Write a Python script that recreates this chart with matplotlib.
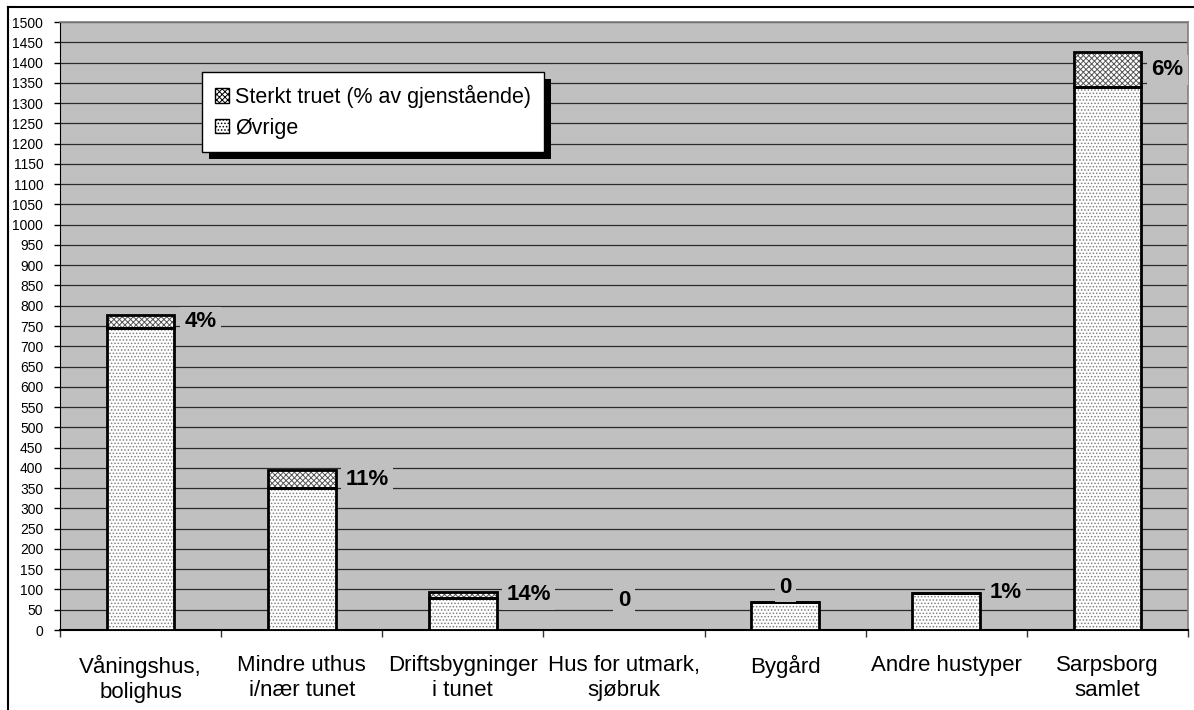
import numpy as np
import matplotlib
matplotlib.use("Agg")
import matplotlib.pyplot as plt
from matplotlib.lines import Line2D
from matplotlib.patches import Rectangle

# Data
categories = ['Våningshus,\nbolighus', 'Mindre uthus\ni/nær tunet', 'Driftsbygninger\ni tunet',
              'Hus for utmark,\nsjøbruk', 'Bygård', 'Andre hustyper', 'Sarpsborg\nsamlet']
ovrige = [745, 350, 80, 0, 70, 91, 1340]
sterkt = [32, 45, 13, 0, 0, 1, 85]
pct_labels = ['4%', '11%', '14%', '0', '0', '1%', '6%']
yticks = list(range(0, 1501, 50))

plt.rcParams['font.family'] = ['Liberation Sans', 'DejaVu Sans']
plt.rcParams['hatch.linewidth'] = 0.7

fig = plt.figure(figsize=(11.94, 7.10), dpi=100)
ax = fig.add_axes([60 / 1194, 1 - 630 / 710, 1128 / 1194, 608 / 710])
ax.set_facecolor('#c0c0c0')

x = np.arange(len(categories))
w = 0.42

# fill patterns first, then black outlines
ax.bar(x, ovrige, w, color='white', hatch='.....', edgecolor='#808080', linewidth=0, zorder=3)
ax.bar(x, sterkt, w, bottom=ovrige, color='white', hatch='xxxxxx', edgecolor='#555555', linewidth=0, zorder=3)
ax.bar(x, ovrige, w, fill=False, edgecolor='black', linewidth=2, zorder=4)
ax.bar(x, sterkt, w, bottom=ovrige, fill=False, edgecolor='black', linewidth=2, zorder=4)

# labels
box = dict(boxstyle='square,pad=0.2', facecolor='#c0c0c0', edgecolor='none')
for i, lab in enumerate(pct_labels):
    top = ovrige[i] + sterkt[i]
    if lab == '0':
        ypos = top + 36 if top > 0 else 74
        ax.text(x[i], ypos, lab, ha='center', va='center', fontsize=16, fontweight='bold',
                bbox=box, zorder=5)
    else:
        ax.annotate(lab, (x[i] + w / 2, ovrige[i] + sterkt[i] / 2), xytext=(7, 0),
                    textcoords='offset points', ha='left', va='center', fontsize=16,
                    fontweight='bold', bbox=box, zorder=5)

ax.set_xlim(-0.5, len(categories) - 0.5)
ax.set_ylim(0, 1500)
ax.set_yticks(yticks)
ax.yaxis.grid(True, color='#2a2a2a', linewidth=0.9, zorder=1)
ax.set_axisbelow(True)
ax.tick_params(axis='y', direction='out', length=4, width=1, pad=8, labelsize=10)

ax.set_xticks(x)
ax.set_xticklabels(categories, fontsize=16, linespacing=1.25)
ax.tick_params(axis='x', which='major', length=0, pad=18)
ax.set_xticks(np.arange(-0.5, len(categories)), minor=True)
ax.tick_params(axis='x', which='minor', direction='out', length=5, width=1, color='#333333')

for s in ['top', 'right']:
    ax.spines[s].set_color('#808080')
    ax.spines[s].set_linewidth(1.2)
ax.spines['left'].set_color('black')
ax.spines['bottom'].set_color('black')
ax.spines['bottom'].set_linewidth(1.5)

# legend with shadow
handles = [Rectangle((0, 0), 1, 1, facecolor='white', hatch='xxxxxx', edgecolor='black', linewidth=1),
           Rectangle((0, 0), 1, 1, facecolor='white', hatch='.....', edgecolor='black', linewidth=1)]
leg = ax.legend(handles, ['Sterkt truet (% av gjenstående)', 'Øvrige'],
                loc='upper left', bbox_to_anchor=(142 / 1128, 1 - 50 / 608),
                fontsize=15.5, frameon=True, fancybox=False, shadow=False,
                handlelength=0.65, handleheight=0.65, handletextpad=0.3,
                labelspacing=0.45, borderpad=0.6, borderaxespad=0,
                edgecolor='black', framealpha=1)
leg.get_frame().set_linewidth(1)
leg.set_zorder(10)
fig.canvas.draw()
bb = leg.get_window_extent()
shadow = Rectangle((bb.x0 + 7, bb.y0 - 7), bb.width, bb.height, transform=None,
                   facecolor='black', edgecolor='none', zorder=9)
ax.add_artist(shadow)

# outer frame (left and top)
fig.add_artist(Line2D([8 / 1194, 8 / 1194], [0, 1 - 7 / 710], color='black', linewidth=1.5))
fig.add_artist(Line2D([8 / 1194, 1], [1 - 7 / 710, 1 - 7 / 710], color='black', linewidth=1.5))

fig.savefig('out.png', dpi=100)
